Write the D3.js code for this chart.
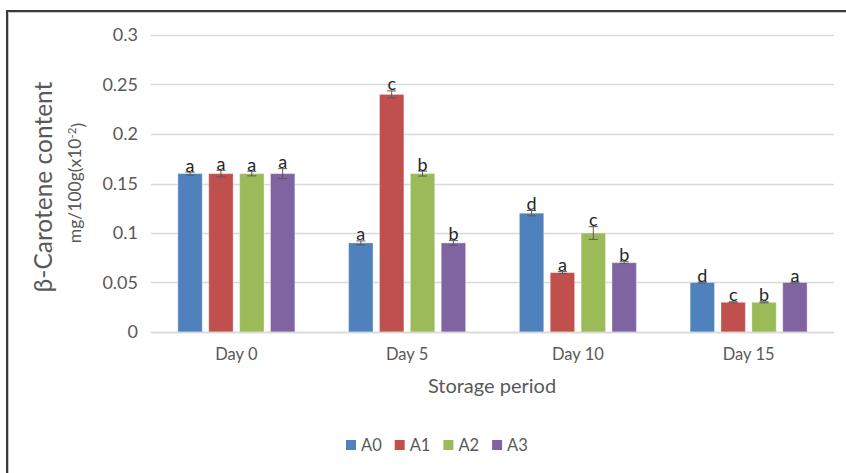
<!DOCTYPE html>
<html>
<head>
<meta charset="utf-8">
<script src="https://cdn.jsdelivr.net/npm/d3@7"></script>
<style>
  body { margin: 0; background: #fff; }
  text { font-family: Lato, "Open Sans", sans-serif; }
</style>
</head>
<body>
<svg width="846" height="473"></svg>
<script>
// chart data
var days = ["Day 0", "Day 5", "Day 10", "Day 15"];
var series = ["A0", "A1", "A2", "A3"];
var colors = ["#4f81bd", "#c0504d", "#9bbb59", "#8064a2"];

var A0 = [0.16, 0.09, 0.12, 0.05];
var A1 = [0.16, 0.24, 0.06, 0.03];
var A2 = [0.16, 0.16, 0.10, 0.03];
var A3 = [0.16, 0.09, 0.07, 0.05];

// standard error
var A0err = [0.0015, 0.002, 0.0027, 0.0005];
var A1err = [0.0033, 0.0035, 0.001, 0.0005];
var A2err = [0.0023, 0.0025, 0.0064, 0.0005];
var A3err = [0.005, 0.0023, 0.001, 0.0005];

// significance letters
var A0lab = ["a", "a", "d", "d"];
var A1lab = ["a", "c", "a", "c"];
var A2lab = ["a", "b", "c", "b"];
var A3lab = ["a", "b", "b", "a"];

var yTicks = [0, 0.05, 0.1, 0.15, 0.2, 0.25, 0.3];
var yTickLabels = ["0", "0.05", "0.1", "0.15", "0.2", "0.25", "0.3"];

var values = [A0, A1, A2, A3];
var errors = [A0err, A1err, A2err, A3err];
var letters = [A0lab, A1lab, A2lab, A3lab];

var svg = d3.select("svg");

// outer frame (clipped at right and bottom like the original)
svg.append("path").attr("d", "M8.5,473V12.5H846")
    .attr("fill", "none").attr("stroke", "#c8c8c8").attr("stroke-width", 1);
svg.append("path").attr("d", "M7,473V11H846")
    .attr("fill", "none").attr("stroke", "#3a3a3a").attr("stroke-width", 2);

var x0 = d3.scaleBand().domain(days).range([151, 834]);
var groupW = 117;
var x1 = d3.scaleBand().domain(series).range([0, groupW]).paddingInner(0.21);
var y = d3.scaleLinear().domain([0, 0.3]).range([332, 35]);

// gridlines
svg.append("g").selectAll("line")
    .data(yTicks).enter().append("line")
    .attr("x1", 151).attr("x2", 834)
    .attr("y1", function(d) { return Math.round(y(d)) + 0.5; })
    .attr("y2", function(d) { return Math.round(y(d)) + 0.5; })
    .attr("stroke", "#d9d9d9").attr("stroke-width", 1.3);

// y tick labels
svg.append("g").selectAll("text")
    .data(yTicks).enter().append("text")
    .attr("x", 138)
    .attr("y", function(d) { return y(d); })
    .attr("dy", "0.36em")
    .attr("text-anchor", "end")
    .attr("fill", "#595959")
    .style("font-size", "18px")
    .text(function(d, i) { return yTickLabels[i]; });

// x tick labels
svg.append("g").selectAll("text")
    .data(days).enter().append("text")
    .attr("x", function(d) { return x0(d) + x0.bandwidth() / 2; })
    .attr("y", 360)
    .attr("text-anchor", "middle")
    .attr("fill", "#595959")
    .style("font-size", "16.5px")
    .text(function(d) { return d; });

// bars
var rows = [];
series.forEach(function(s, si) {
  days.forEach(function(d, di) {
    rows.push({s: s, si: si, d: d, v: values[si][di], e: errors[si][di], lab: letters[si][di]});
  });
});

function barX(r) { return x0(r.d) + (x0.bandwidth() - groupW) / 2 + x1(r.s); }

var bar = svg.append("g").selectAll("g")
    .data(rows).enter().append("g");

bar.append("rect")
    .attr("x", barX)
    .attr("y", function(r) { return y(r.v); })
    .attr("width", x1.bandwidth())
    .attr("height", function(r) { return y(0) - y(r.v); })
    .attr("fill", function(r) { return colors[r.si]; })
    .attr("stroke", "#ffffff").attr("stroke-opacity", 0.35).attr("stroke-width", 1);

// error bars
var cx = function(r) { return barX(r) + x1.bandwidth() / 2; };
bar.append("line")
    .attr("x1", cx).attr("x2", cx)
    .attr("y1", function(r) { return y(r.v + r.e); })
    .attr("y2", function(r) { return y(r.v - r.e); })
    .attr("stroke", "#595959").attr("stroke-width", 1);
[1, -1].forEach(function(sgn) {
  bar.append("line")
      .attr("x1", function(r) { return cx(r) - 4.5; })
      .attr("x2", function(r) { return cx(r) + 4.5; })
      .attr("y1", function(r) { return y(r.v + sgn * r.e); })
      .attr("y2", function(r) { return y(r.v + sgn * r.e); })
      .attr("stroke", "#595959").attr("stroke-width", 1);
});

// letters
bar.append("text")
    .attr("x", cx)
    .attr("y", function(r) { return y(r.v + r.e) - 0.5; })
    .attr("text-anchor", "middle")
    .attr("fill", "#262626")
    .style("font-size", "18px")
    .text(function(r) { return r.lab; });

// axis baseline
svg.append("line")
    .attr("x1", 151).attr("x2", 834)
    .attr("y1", 332.5).attr("y2", 332.5)
    .attr("stroke", "#d9d9d9").attr("stroke-width", 1.3);

// axis titles
svg.append("text")
    .attr("x", 492).attr("y", 393)
    .attr("text-anchor", "middle")
    .attr("fill", "#595959")
    .style("font-size", "20px")
    .text("Storage period");

svg.append("text")
    .attr("transform", "translate(52,187) rotate(-90)")
    .attr("text-anchor", "middle")
    .attr("fill", "#595959")
    .style("font-size", "24.5px")
    .text("β-Carotene content");

var t2 = svg.append("text")
    .attr("transform", "translate(81,183) rotate(-90)")
    .attr("text-anchor", "middle")
    .attr("fill", "#595959")
    .style("font-size", "17.5px");
t2.append("tspan").text("mg/100g(x10");
t2.append("tspan").attr("dy", "-0.45em").style("font-size", "11.5px").text("-2");
t2.append("tspan").attr("dy", "0.45em").text(")");

// legend
var legend = svg.append("g").selectAll("g")
    .data(series).enter().append("g")
    .attr("transform", function(d, i) { return "translate(" + (346 + i * 48.7) + ",440)"; });
legend.append("rect")
    .attr("width", 10).attr("height", 10)
    .attr("fill", function(d, i) { return colors[i]; });
legend.append("text")
    .attr("x", 15).attr("y", 11)
    .attr("fill", "#595959")
    .style("font-size", "16.5px")
    .text(function(d) { return d; });
</script>
</body>
</html>
